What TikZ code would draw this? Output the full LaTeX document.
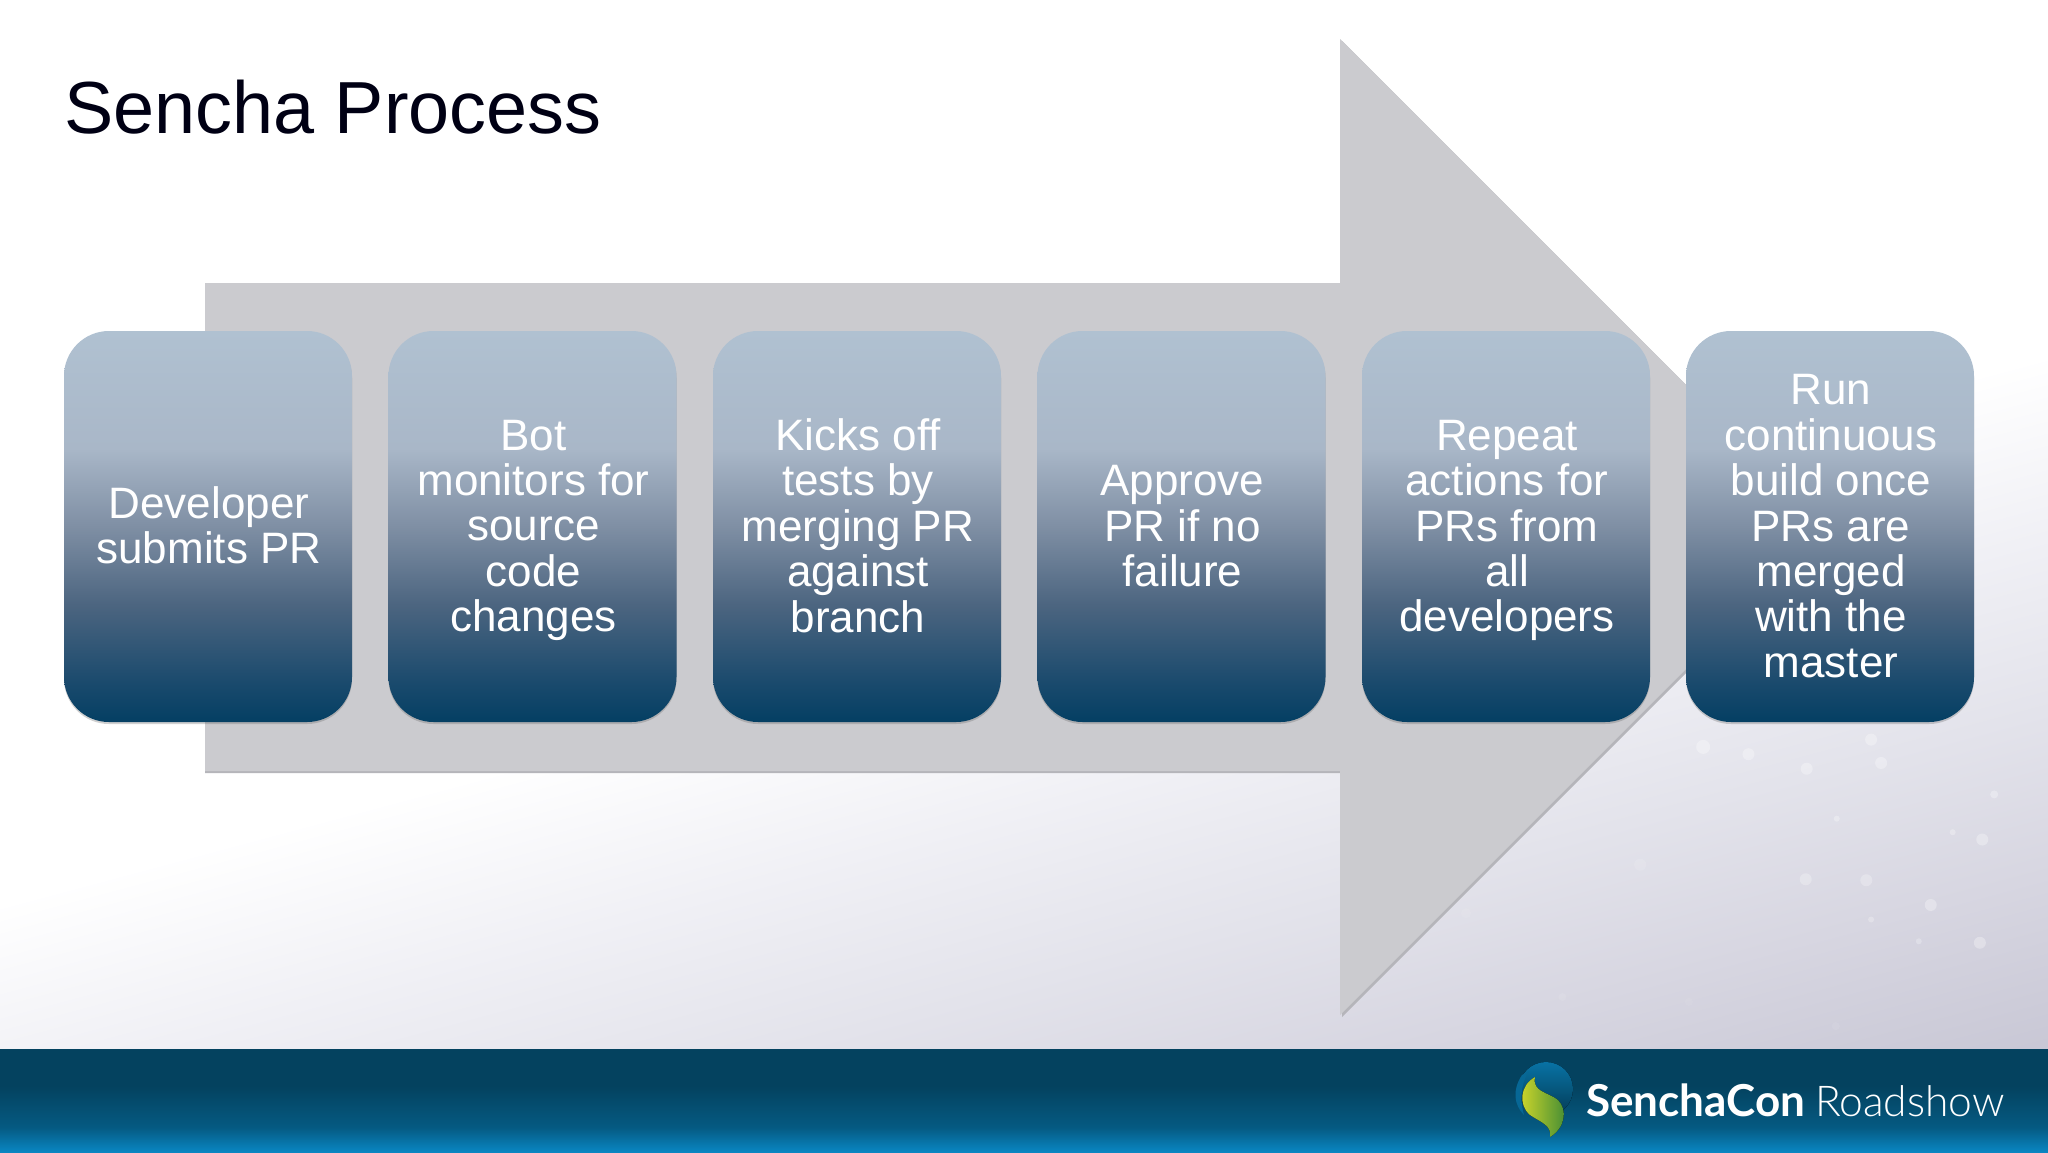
\documentclass[tikz,border=0pt]{standalone}
\usepackage{fontspec}
\setmainfont{Liberation Sans}
\newfontfamily\logobold{Lato}[UprightFont=* Bold]
\newfontfamily\logolight{Lato}[UprightFont=* Light]
\usetikzlibrary{shadows}
\newcommand\steptext[1]{\kern2pt\raisebox{-5.5pt}[\height][\depth]{\begin{tabular}{@{}c@{}}#1\end{tabular}}}
\definecolor{arrowgray}{HTML}{CBCBCF}
\definecolor{arrowedge}{HTML}{B5B5BA}
\definecolor{bgA}{HTML}{C8C7D5}
\definecolor{bgB}{HTML}{D7D6E1}
\definecolor{bgC}{HTML}{E3E3EB}
\definecolor{bgD}{HTML}{F0F0F5}
\pgfdeclareverticalshading{lavender}{100bp}{
  color(0bp)=(bgA);
  color(19bp)=(bgA);
  color(26bp)=(bgB);
  color(32.3bp)=(bgC);
  color(39bp)=(bgD);
  color(46bp)=(white);
  color(100bp)=(white)}
\definecolor{boxA}{HTML}{B0C1D1}
\definecolor{boxB}{HTML}{A9B7C8}
\definecolor{boxC}{HTML}{7F8FA4}
\definecolor{boxD}{HTML}{4C6580}
\definecolor{boxE}{HTML}{1A4A6D}
\definecolor{boxF}{HTML}{043F63}
\pgfdeclareverticalshading{boxshade}{100bp}{
  color(0bp)=(boxF);
  color(25bp)=(boxF);
  color(30bp)=(boxE);
  color(40bp)=(boxD);
  color(50bp)=(boxC);
  color(60bp)=(boxB);
  color(75bp)=(boxA);
  color(100bp)=(boxA)}
\definecolor{bandA}{HTML}{04425F}
\definecolor{bandB}{HTML}{055A82}
\definecolor{bandC}{HTML}{0A86C2}
\pgfdeclareverticalshading{bandshade}{100bp}{
  color(0bp)=(bandC);
  color(25bp)=(bandC);
  color(37bp)=(bandB);
  color(57bp)=(bandA);
  color(100bp)=(bandA)}
\definecolor{leafA}{HTML}{D3D92A}
\definecolor{leafB}{HTML}{3F8A35}
\tikzset{
  stepbox/.style={rectangle, rounded corners=45pt, minimum width=288pt, minimum height=391pt,
    inner sep=0pt, shading=boxshade, text=white,
    font=\fontsize{44}{45.2}\selectfont,
    drop shadow={shadow xshift=0pt, shadow yshift=-2pt, opacity=.3, fill=black!60}},
  speck/.style={white}
}
\begin{document}
\begin{tikzpicture}[x=1pt,y=-1pt]
\useasboundingbox (0,0) rectangle (2048,1152);
% page background
\shade[shading=lavender, shading angle=15] (0,0) rectangle (2048,1049);
% specks
\foreach \zx/\zy/\r/\op in {845/922/7/.3,940/937/6/.3,1062/967/6/.3,1197/907/6/.3,1218/955/6/.3,1455/1020/4/.3,1125/1070/3/.3,1368/1098/3/.3,1430/1113/6/.3,713/1165/6/.12,1060/1195/6/.25,1187/1197/6/.25,1322/1248/6/.3,1197/1278/3/.25,1297/1323/3/.25,1425/1326/6/.3,348/1265/5/.08,550/1438/4/.08,815/1448/4/.06,1123/1498/4/.08}
  \fill[speck, opacity=\op] ({1300+\zx/2.096},{300+\zy/2.063}) circle (\r);
% big arrow
\path[fill=arrowedge] (205,285) -- (1342,285) -- (1342,41) -- (1830,529) -- (1342,1017) -- (1342,773) -- (205,773) -- cycle;
\path[fill=arrowgray] (205,283) -- (1340,283) -- (1340,39) -- (1828,527) -- (1340,1015) -- (1340,771) -- (205,771) -- cycle;
% title
\node[anchor=base west, inner sep=0pt, text=black!92!blue, font=\fontsize{73.8}{80}\selectfont] (title) at (64,133) {Sencha Process};
% step boxes
\node[stepbox] (s1) at (208,526.5) {\steptext{Developer\\submits PR}};
\node[stepbox] (s2) at (532.5,526.5) {\steptext{Bot\\monitors for\\source\\code\\changes}};
\node[stepbox] (s3) at (857,526.5) {\steptext{Kicks off\\tests by\\merging PR\\against\\branch}};
\node[stepbox] (s4) at (1181.5,526.5) {\steptext{Approve\\PR if no\\failure}};
\node[stepbox] (s5) at (1506,526.5) {\steptext{Repeat\\actions for\\PRs from\\all\\developers}};
\node[stepbox] (s6) at (1830,526.5) {\steptext{Run\\continuous\\build once\\PRs are\\merged\\with the\\master}};
% footer band
\shade[shading=bandshade] (0,1049) rectangle (2048,1152);
% logo
\fill[top color=bandC!70!bandA, bottom color=bandA!90!black] (1546,1089) circle (27);
\fill[bandC!55!bandA] (1522,1075) .. controls (1512,1090) and (1514,1105) .. (1524,1115) .. controls (1520,1100) and (1520,1088) .. (1528,1072) -- cycle;
\fill[left color=leafA, right color=leafB] (1535,1077) .. controls (1520,1085) and (1518,1105) .. (1530,1115) .. controls (1540,1122) and (1552,1125) .. (1550,1137) .. controls (1565,1128) and (1568,1110) .. (1558,1100) .. controls (1548,1092) and (1532,1092) .. (1535,1077) -- cycle;
% logo text
\node[anchor=base west, inner sep=0pt, text=white, font=\logobold\fontsize{44}{48}\selectfont] (brand) at (1586,1116) {SenchaCon};
\node[anchor=base west, inner sep=0pt, text=white, font=\logolight\fontsize{42.5}{48}\selectfont] (event) at (1815,1116) {Roadshow};
\end{tikzpicture}
\end{document}
